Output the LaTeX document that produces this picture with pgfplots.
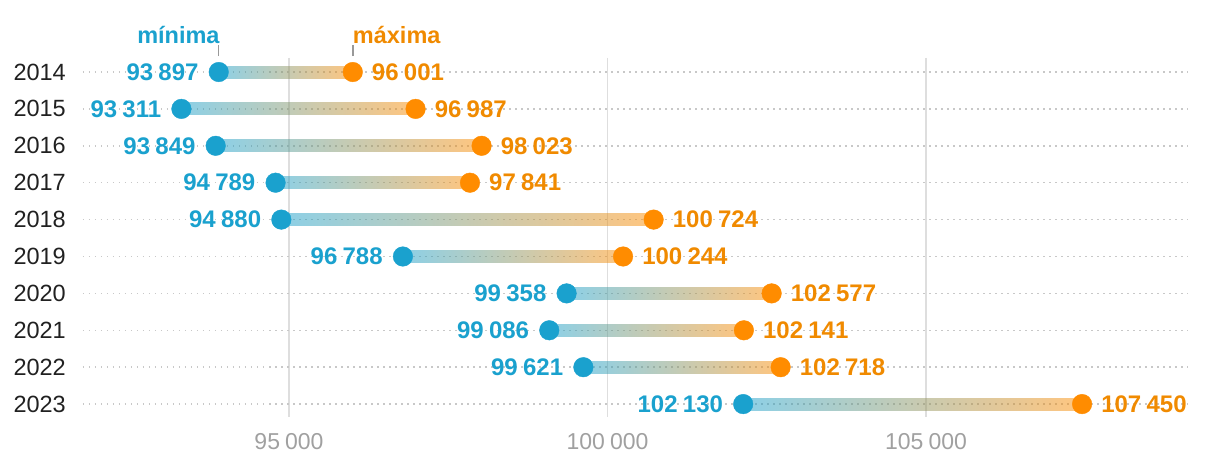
\documentclass[border=0pt]{standalone}
\usepackage{fontspec}
\setmainfont{Liberation Sans}
\usepackage{pgfplots}
\pgfplotsset{compat=1.18}
\usepackage{pgfplotstable}

\definecolor{minblue}{HTML}{1AA1CE}
\definecolor{maxorange}{HTML}{FF8C00}
\definecolor{maxtext}{HTML}{F08A00}
\definecolor{midgray}{HTML}{9C8C80}
\definecolor{gridgray}{HTML}{DEDEDE}
\definecolor{dotgray}{HTML}{C8C8C8}
\definecolor{ticktext}{HTML}{A0A0A0}
\definecolor{markgray}{HTML}{999999}

% salario minimo y maximo por anno
\pgfplotstableread{
year min max
2014 93897 96001
2015 93311 96987
2016 93849 98023
2017 94789 97841
2018 94880 100724
2019 96788 100244
2020 99358 102577
2021 99086 102141
2022 99621 102718
2023 102130 107450
}\salaries

\pgfplotsset{
  /pgf/number format/fixed,
  /pgf/number format/precision=0,
  /pgf/number format/1000 sep={\hspace{0.22em}},
  /pgf/number format/assume math mode=true,
  dumbbell/.style={draw=none, left color=minblue, middle color=midgray,
      right color=maxorange, fill opacity=0.5},
}

\begin{document}
\begin{tikzpicture}
\begin{axis}[
    name=ax,
    scale only axis, width=1105pt, height=359pt,
    xmin=91766, xmax=109113, ymin=2013.62, ymax=2023.35,
    y dir=reverse, clip=false,
    axis line style={draw=none},
    tick style={draw=none}, major tick length=0pt,
    xtick={95000,100000,105000},
    ytick={2014,...,2023},
    scaled x ticks=false,
    xmajorgrids, ymajorgrids,
    x grid style={gridgray, line width=1.5pt},
    y grid style={dotgray, line width=1.5pt, dash pattern=on 1.5pt off 4.5pt},
    xticklabel style={font=\fontsize{23}{27}\selectfont, text=ticktext,
        inner sep=0pt, anchor=north, yshift=-16pt},
    yticklabel style={font=\fontsize{23.5}{27}\selectfont, text=black!87,
        inner sep=0pt, anchor=east, xshift=-17pt,
        /pgf/number format/1000 sep={}},
]
% barras con degradado, una por fila
\pgfplotsforeachungrouped \i in {0,...,9}{
  \pgfplotstablegetelem{\i}{year}\of\salaries \let\yr\pgfplotsretval
  \pgfplotstablegetelem{\i}{min}\of\salaries \let\lo\pgfplotsretval
  \pgfplotstablegetelem{\i}{max}\of\salaries \let\hi\pgfplotsretval
  \pgfmathsetmacro\ya{\yr-0.163}
  \pgfmathsetmacro\yb{\yr+0.163}
  \edef\cmd{\noexpand\addplot[dumbbell] coordinates
      {(\lo,\ya) (\hi,\ya) (\hi,\yb) (\lo,\yb)};}
  \cmd
}

\addplot[only marks, mark=*, mark size=9.8pt, minblue,
    nodes near coords, point meta=x,
    nodes near coords style={anchor=east, inner sep=0pt, xshift=-20pt,
        font=\bfseries\fontsize{24}{28}\selectfont, text=minblue}]
    table[x=min, y=year]{\salaries};
\addplot[only marks, mark=*, mark size=9.8pt, maxorange,
    nodes near coords, point meta=x,
    nodes near coords style={anchor=west, inner sep=0pt, xshift=19pt,
        font=\bfseries\fontsize{24}{28}\selectfont, text=maxtext}]
    table[x=max, y=year]{\salaries};

\node[anchor=base east, inner sep=0pt, font=\bfseries\fontsize{23.5}{28}\selectfont,
    text=minblue] at ([xshift=1pt, yshift=29pt]axis cs:93897,2014) {mínima};
\node[anchor=base west, inner sep=0pt, font=\bfseries\fontsize{23.5}{28}\selectfont,
    text=maxtext] at ([yshift=29pt]axis cs:96001,2014) {máxima};
\draw[markgray, line width=1.5pt] ([yshift=16pt]axis cs:93897,2014) -- ([yshift=27pt]axis cs:93897,2014);
\draw[markgray, line width=1.5pt] ([yshift=16pt]axis cs:96001,2014) -- ([yshift=27pt]axis cs:96001,2014);
\end{axis}

\pgfresetboundingbox
\path ([xshift=-83pt, yshift=-47pt]ax.south west) rectangle ([xshift=32pt, yshift=58pt]ax.north east);
\end{tikzpicture}
\end{document}
